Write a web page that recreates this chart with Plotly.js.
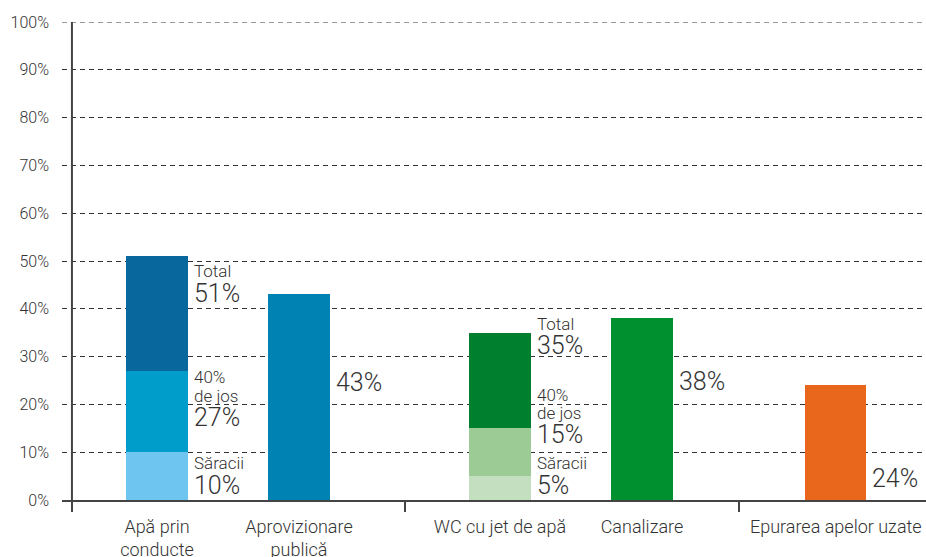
<!DOCTYPE html>
<html>
<head>
<meta charset="utf-8">
<script src="https://cdn.plot.ly/plotly-3.0.1.min.js"></script>
<style>html,body{margin:0;padding:0;background:#fff;}#chart{width:926px;height:557px;}</style>
</head>
<body>
<div id="chart"></div>
<script>
// ---- data ----
const categories = ["Apă prin<br>conducte", "Aprovizionare<br>publică", "WC cu jet de apă", "Canalizare", "Epurarea apelor uzate"];
const stackedCats = ["Apă prin conducte", "WC cu jet de apă"];
const saracii = [10, 5];          // Săracii
const jos40 = [27, 15];           // 40% de jos
const totalStacked = [51, 35];    // Total
const singleCats = ["Aprovizionare publică", "Canalizare", "Epurarea apelor uzate"];
const singleValues = [43, 38, 24];
const yTicks = [0, 10, 20, 30, 40, 50, 60, 70, 80, 90, 100];

// ---- layout constants (positions / styles) ----
const xPos = [0, 1, 2.415, 3.415, 4.78];
const stackedIdx = [0, 2];
const singleIdx = [1, 3, 4];
const boundaries = [-0.599, 1.746, 4.099];
const barW = 0.43;
const FONT = "Roboto, 'Open Sans', sans-serif";
const TXT = "#333333";

const colsSaracii = ["#6ec6f0", "#c4dfbf"];
const colsJos = ["#009dca", "#9ccb95"];
const colsTotal = ["#08689d", "#007f2e"];
const colsSingle = ["#0083b3", "#00902f", "#e8671c"];

const sx = stackedIdx.map(i => xPos[i]);
const ux = singleIdx.map(i => xPos[i]);

const traces = [
  {type: "bar", x: sx, y: totalStacked, width: barW, marker: {color: colsTotal}, hoverinfo: "skip", name: "Total"},
  {type: "bar", x: sx, y: jos40, width: barW, marker: {color: colsJos}, hoverinfo: "skip", name: "40% de jos"},
  {type: "bar", x: sx, y: saracii, width: barW, marker: {color: colsSaracii}, hoverinfo: "skip", name: "Săracii"},
  {type: "bar", x: ux, y: singleValues, width: barW, marker: {color: colsSingle}, hoverinfo: "skip", name: "single"},
  {type: "scatter", x: xPos, y: xPos.map(() => 0), xaxis: "x2", mode: "none", hoverinfo: "skip", showlegend: false}
];

const ann = [];
function label(x, y, text, size) {
  ann.push({x: x + barW / 2, y: y, xref: "x", yref: "y", text: text, showarrow: false,
    xanchor: "left", yanchor: "middle", xshift: 5, borderpad: 0,
    font: {family: FONT, size: size, color: TXT, weight: 300}});
}
const small = 17, big = 25;
stackedIdx.forEach((ci, k) => {
  const x = xPos[ci];
  const lay = k === 0
    ? {tot: [47.9, 43.3], jos: [25.7, 21.8, 17.2], sar: [7.7, 3.1]}
    : {tot: [36.8, 32.4], jos: [22.0, 18.2, 13.8], sar: [7.7, 3.1]};
  label(x, lay.tot[0], "Total", small);
  label(x, lay.tot[1], totalStacked[k] + "%", big);
  label(x, lay.jos[0], "40%", small);
  label(x, lay.jos[1], "de jos", small);
  label(x, lay.jos[2], jos40[k] + "%", big);
  label(x, lay.sar[0], "Săracii", small);
  label(x, lay.sar[1], saracii[k] + "%", big);
});
const singleLabelY = [24.5, 24.7, 4.4];
singleIdx.forEach((ci, k) => label(xPos[ci], singleLabelY[k], singleValues[k] + "%", big));

const layout = {
  width: 926, height: 557,
  margin: {l: 62, r: 0, t: 22, b: 57},
  paper_bgcolor: "#fff", plot_bgcolor: "#fff",
  barmode: "overlay", bargap: 0,
  showlegend: false,
  font: {family: FONT, color: TXT, weight: 300},
  xaxis: {
    range: [-0.669, 5.415], fixedrange: true,
    tickmode: "array", tickvals: boundaries, ticktext: boundaries.map(() => ""),
    ticks: "outside", ticklen: 10, tickwidth: 2, tickcolor: "#444",
    showgrid: false, zeroline: false,
    showline: true, linecolor: "#444", linewidth: 2
  },
  xaxis2: {
    overlaying: "x", matches: "x", range: [-0.669, 5.415], side: "bottom", anchor: "y",
    tickmode: "array", tickvals: xPos, ticktext: categories,
    ticks: "outside", ticklen: 10, tickcolor: "rgba(0,0,0,0)",
    showgrid: false, zeroline: false, showline: false,
    tickfont: {family: FONT, size: 18, color: TXT, weight: 300}
  },
  yaxis: {
    range: [0, 100], fixedrange: true,
    tickmode: "array", tickvals: yTicks, ticktext: yTicks.map(v => v + "%"),
    ticks: "", ticklabelstandoff: 12,
    showgrid: true, gridcolor: "#333", gridwidth: 1, griddash: "5px,4px",
    zeroline: false, showline: false,
    tickfont: {family: FONT, size: 16, color: TXT, weight: 300}
  },
  shapes: [
    {type: "line", xref: "paper", yref: "y", x0: 0, x1: 1, y0: 100, y1: 100,
     line: {color: "#333", width: 1, dash: "5px,4px"}, layer: "below"},
    {type: "line", xref: "x", yref: "y", x0: boundaries[0], x1: boundaries[0], y0: 0, y1: 100,
     line: {color: "#444", width: 2}, layer: "above"}
  ],
  annotations: ann
};

Plotly.newPlot("chart", traces, layout, {displayModeBar: false, staticPlot: true});
</script>
</body>
</html>
